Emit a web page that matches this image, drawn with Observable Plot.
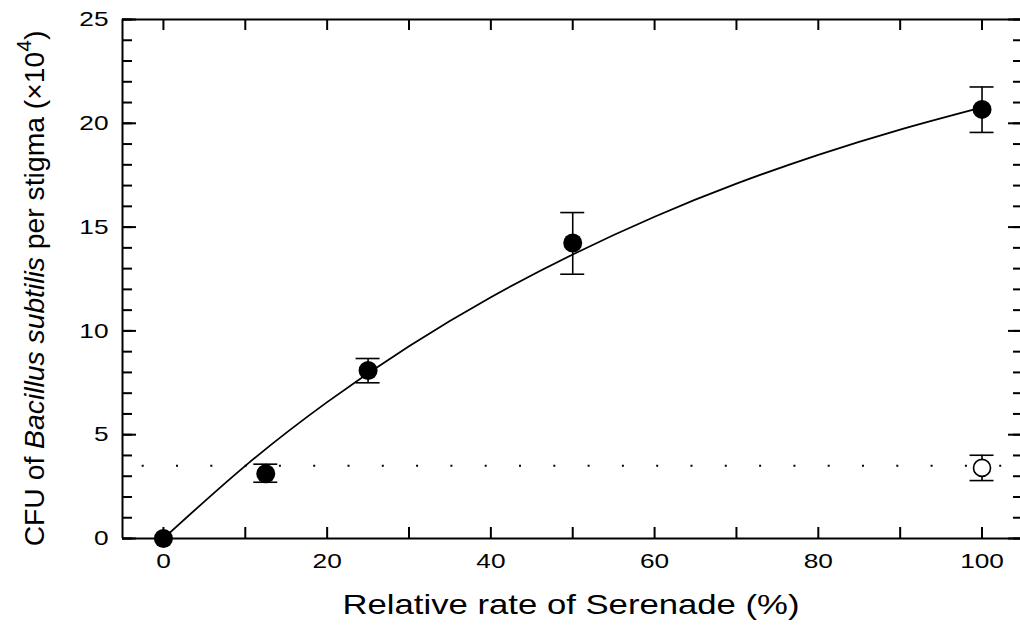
<!DOCTYPE html>
<html><head><meta charset="utf-8">
<script src="https://cdn.jsdelivr.net/npm/d3@7"></script>
<script src="https://cdn.jsdelivr.net/npm/@observablehq/plot@0.6"></script>
<style>body{margin:0;background:#fff;} svg{display:block;}</style>
</head><body><div id="chart"></div>
<script>
// Treatment means (filled circles) with error bar ends
const rate = [0, 12.5, 25, 50, 100];
const cfu = [0, 3.12, 8.09, 14.23, 20.67];
const cfuLow = [0, 2.71, 7.5, 12.73, 19.56];
const cfuHigh = [0, 3.58, 8.67, 15.7, 21.75];
// Control (open circle)
const controlRate = [100];
const controlCfu = [3.4];
const controlLow = [2.79];
const controlHigh = [4.01];
// Dotted reference level
const baseline = [3.5];
// Fitted curve
const fitRate = [0, 10, 20, 30, 40, 50, 60, 70, 80, 90, 100];
const fitCfu = [0, 3.5, 6.57, 9.26, 11.62, 13.68, 15.5, 17.09, 18.48, 19.7, 20.77];
// Ticks
const xLabelTicks = [0, 20, 40, 60, 80, 100];
const xMinorTicks = [0, 10, 20, 30, 40, 50, 60, 70, 80, 90, 100];
const yLabelTicks = [0, 5, 10, 15, 20, 25];
const yMinorTicks = d3.range(0, 26);
const xTitle = "Relative rate of Serenade (%)";

const W = 1020, H = 625, mL = 122, mR = 0, mT = 19, mB = 87;
const pW = W - mL - mR, pH = H - mT - mB;

const points = rate.map((x, i) => ({x, y: cfu[i], lo: cfuLow[i], hi: cfuHigh[i]}));
const control = controlRate.map((x, i) => ({x, y: controlCfu[i], lo: controlLow[i], hi: controlHigh[i]}));
const bars = points.filter(d => d.hi > d.lo).concat(control);
const fit = fitRate.map((x, i) => ({x, y: fitCfu[i]}));

const svg = Plot.plot({
  width: W, height: H,
  marginLeft: mL, marginRight: mR, marginTop: mT, marginBottom: mB,
  style: {fontFamily: "'Liberation Sans', Arial, sans-serif", fontSize: "21px", color: "black", background: "white"},
  x: {domain: [-5, 104.7], axis: null},
  y: {domain: [0, 25], axis: null},
  marks: [
    Plot.ruleY(baseline, {y: d => d, stroke: "black", strokeWidth: 2, strokeDasharray: "2,32.3", strokeDashoffset: -19.7}),
    Plot.line(fit, {x: "x", y: "y", curve: "natural", stroke: "black", strokeWidth: 1.8}),
    Plot.ruleX(bars, {x: "x", y1: "lo", y2: "hi", stroke: "black", strokeWidth: 1.6}),
    Plot.ruleY(bars, {y: "hi", x1: "x", x2: "x", insetLeft: -12, insetRight: -12, stroke: "black", strokeWidth: 1.6}),
    Plot.ruleY(bars, {y: "lo", x1: "x", x2: "x", insetLeft: -12, insetRight: -12, stroke: "black", strokeWidth: 1.6}),
    Plot.dot(points, {x: "x", y: "y", r: 9.5, fill: "black", stroke: "none"}),
    Plot.dot(control, {x: "x", y: "y", r: 8.5, fill: "white", stroke: "black", strokeWidth: 1.6}),
    // frame: left, bottom, top
    Plot.ruleY([0, 25], {y: d => d, stroke: "black", strokeWidth: 2}),
    Plot.ruleX([-5], {x: d => d, stroke: "black", strokeWidth: 2}),
    // inward ticks
    Plot.tickX(xMinorTicks, {x: d => d, insetTop: pH - 11, stroke: "black", strokeWidth: 2}),
    Plot.tickX(xMinorTicks, {x: d => d, insetBottom: pH - 11, stroke: "black", strokeWidth: 2}),
    Plot.tickY(yMinorTicks, {y: d => d, insetRight: pW - 10, stroke: "black", strokeWidth: 2}),
    Plot.tickY(yLabelTicks, {y: d => d, insetRight: pW - 14, stroke: "black", strokeWidth: 2}),
    Plot.tickY(yMinorTicks, {y: d => d, insetLeft: pW - 7, stroke: "black", strokeWidth: 2}),
    Plot.tickY(yLabelTicks, {y: d => d, insetLeft: pW - 12, stroke: "black", strokeWidth: 2}),
    Plot.axisX(xLabelTicks, {tickSize: 0, tickPadding: 15, label: null, fontSize: 21}),
    Plot.axisY(yLabelTicks, {tickSize: 0, tickPadding: 14, label: null, fontSize: 21})
  ]
});

document.getElementById("chart").appendChild(svg);

// widen tick labels to match the reference's broad lettering
d3.select(svg).selectAll('g[aria-label$="tick label"] text').each(function() {
  const len = this.getComputedTextLength();
  d3.select(this).attr("font-size", 21).attr("textLength", len * 1.25).attr("lengthAdjust", "spacingAndGlyphs");
});

// X-axis title
d3.select(svg).append("text")
  .attr("x", mL + pW / 2)
  .attr("y", 614)
  .attr("text-anchor", "middle")
  .attr("font-size", 28)
  .attr("fill", "black")
  .attr("textLength", 457)
  .attr("lengthAdjust", "spacingAndGlyphs")
  .text(xTitle);

// Y-axis title with italic species name and superscript
const t = d3.select(svg).append("text")
  .attr("transform", `translate(44, ${mT + pH / 2 + 10}) rotate(-90)`)
  .attr("text-anchor", "middle")
  .attr("font-size", 28.3)
  .attr("fill", "black");
t.append("tspan").text("CFU of ");
t.append("tspan").attr("font-style", "italic").text("Bacillus subtilis");
t.append("tspan").text(" per stigma (×10");
t.append("tspan").attr("font-size", 21).attr("dy", -13).text("4");
t.append("tspan").attr("dy", 13).text(")");
</script>
</body></html>
